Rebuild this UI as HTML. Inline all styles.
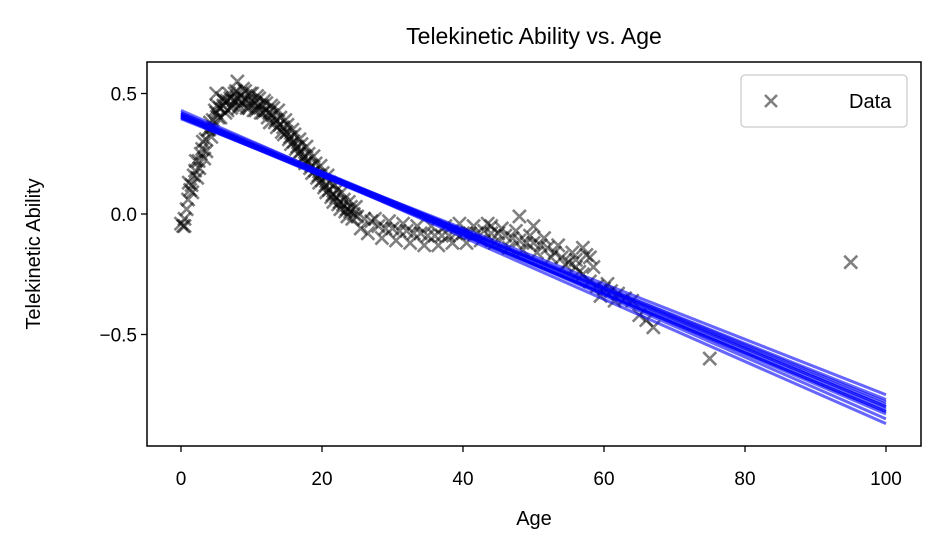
<!DOCTYPE html>
<html><head><meta charset="utf-8"><style>
html,body{margin:0;padding:0;background:#fff;}
svg{display:block;font-family:"Liberation Sans","DejaVu Sans",sans-serif;}
</style></head><body>
<svg id="c" width="941" height="554" xmlns="http://www.w3.org/2000/svg"></svg>
<script>
const agesA=[0,0.5,1,1.5,2,2.5,3,3.5,4,4.5,5,5.5,6,6.5,7,7.5,8,8.5,9,9.5,10,10.5,11,11.5,12,12.5,13,13.5,14,14.5,15,15.5,16,16.5,17,17.5,18,18.5,19,19.5,20,20.5,21,21.5,22,22.5,23,23.5,24,24.5,25];
const valsA=[-0.04,-0.02,0.06,0.12,0.18,0.22,0.27,0.31,0.35,0.39,0.42,0.44,0.45,0.47,0.48,0.47,0.48,0.49,0.48,0.47,0.47,0.46,0.45,0.45,0.43,0.42,0.41,0.39,0.37,0.36,0.34,0.32,0.30,0.28,0.26,0.24,0.22,0.20,0.18,0.16,0.14,0.12,0.10,0.08,0.07,0.05,0.04,0.02,0.01,0.00,-0.01];
const agesB=[0.3,0.8,1.3,1.8,2.3,2.8,3.3,3.8,4.3,4.8,5.3,5.8,6.3,6.8,7.3,7.8,8.3,8.8,9.3,9.8,10.3,10.8,11.3,11.8,12.3,12.8,13.3,13.8,14.3,14.8,15.3,15.8,16.3,16.8,17.3,17.8,18.3,18.8,19.3,19.8,20.3,20.8,21.3,21.8,22.3,22.8,23.3,23.8,24.3,24.8];
const valsB=[-0.05,0.02,0.10,0.16,0.15,0.25,0.23,0.35,0.32,0.43,0.40,0.48,0.42,0.50,0.45,0.51,0.45,0.52,0.44,0.50,0.43,0.49,0.42,0.47,0.40,0.45,0.38,0.43,0.34,0.39,0.31,0.35,0.27,0.31,0.23,0.28,0.19,0.24,0.15,0.20,0.11,0.16,0.07,0.12,0.04,0.09,0.01,0.05,-0.02,0.03];
const agesE=[1.1,1.6,2.1,2.6,3.1,3.6,4.1,4.6,5.1,5.6,6.1,6.6,7.1,7.6,8.1,8.6,9.1,9.6,10.1,10.6,11.1,11.6,12.1,12.6,13.1,13.6,14.1,14.6,15.1,15.6,16.1,16.6,17.1,17.6,18.1,18.6,19.1,19.6,20.1,20.6,21.1,21.6,22.1,22.6,23.1,23.6,24.1];
const valsE=[0.13,0.09,0.22,0.19,0.30,0.26,0.38,0.36,0.45,0.40,0.47,0.43,0.44,0.50,0.44,0.46,0.51,0.44,0.50,0.43,0.48,0.42,0.46,0.38,0.44,0.36,0.40,0.33,0.37,0.29,0.33,0.25,0.29,0.21,0.25,0.17,0.21,0.13,0.17,0.09,0.13,0.05,0.10,0.02,0.06,-0.01,0.03];
const agesC=[26,27,28,29,30,31,32,33,34,35,36,37,38,39,40,41,42,43,44,45,46,47,48,49,50,51,52,53,54,55,56,57,58,59,60,61,62,63,64,65,66,67];
const valsC=[-0.02,-0.03,-0.05,-0.06,-0.06,-0.07,-0.07,-0.08,-0.08,-0.09,-0.09,-0.09,-0.09,-0.08,-0.08,-0.08,-0.08,-0.07,-0.08,-0.08,-0.09,-0.10,-0.11,-0.12,-0.12,-0.13,-0.14,-0.16,-0.18,-0.20,-0.22,-0.25,-0.28,-0.30,-0.31,-0.32,-0.33,-0.35,-0.36,-0.42,-0.44,-0.47];
const agesD=[25.5,26.5,27.5,28.5,29.5,30.5,31.5,32.5,33.5,34.5,35.5,36.5,37.5,38.5,39.5,40.5,41.5,42.5,43.5,44.5,45.5,46.5,47.5,48.5,49.5,50.5,51.5,52.5,53.5,54.5,55.5,56.5,57.5,58.5,59.5,60.5,61.5,0.5,48,50,57,58,8,5,75,95,56,44];
const valsD=[-0.06,-0.08,-0.02,-0.10,-0.03,-0.11,-0.04,-0.12,-0.05,-0.13,-0.05,-0.13,-0.05,-0.12,-0.04,-0.12,-0.05,-0.11,-0.04,-0.12,-0.06,-0.14,-0.07,-0.15,-0.09,-0.16,-0.10,-0.18,-0.13,-0.21,-0.16,-0.24,-0.17,-0.22,-0.34,-0.29,-0.36,-0.05,-0.01,-0.05,-0.14,-0.18,0.55,0.50,-0.60,-0.20,-0.19,-0.05];
const lineIntercepts=[0.42,0.41,0.40,0.415,0.405,0.42,0.41,0.40,0.43,0.395,0.41,0.40];
const lineEnds=[-0.80,-0.78,-0.75,-0.83,-0.82,-0.87,-0.79,-0.81,-0.85,-0.77,-0.80,-0.82];
const xTicks=[0,20,40,60,80,100];
const yTicks=[0.5,0.0,-0.5];
const yTickLabels=["0.5","0.0","\u22120.5"];

const NS="http://www.w3.org/2000/svg";
const svg=document.getElementById('c');
const L=147,R=921,T=62,B=446;
const xs=v=>181+v*7.05;
const ys=v=>214-v*241;
function mk(t,a,p){const e=document.createElementNS(NS,t);for(const k in a)e.setAttribute(k,a[k]);(p||svg).appendChild(e);return e;}

const gp=mk('g',{});


function pts(ag,va){for(let i=0;i<ag.length;i++){const x=xs(ag[i]),y=ys(va[i]),s=6.5;
 const p=mk('path',{d:`M${x-s},${y-s}L${x+s},${y+s}M${x-s},${y+s}L${x+s},${y-s}`,stroke:'#000','stroke-opacity':0.5,'stroke-width':2.6},gp);
 
 }}
pts(agesA,valsA);pts(agesB,valsB);pts(agesE,valsE);pts(agesC,valsC);pts(agesD,valsD);

const gl=mk('g',{});


for(let i=0;i<lineIntercepts.length;i++){
 const l=mk('line',{x1:xs(0),y1:ys(lineIntercepts[i]),x2:xs(100),y2:ys(lineEnds[i]),stroke:'#0000ff','stroke-opacity':0.6,'stroke-width':3},gl);
 
 
}

const fr=mk('rect',{x:L,y:T,width:R-L,height:B-T,fill:'none',stroke:'#000','stroke-width':1.5});



xTicks.forEach(v=>{const x=xs(v);mk('line',{x1:x,y1:B,x2:x,y2:B+6,stroke:'#000','stroke-width':1.3});
 const t=mk('text',{x:x,y:B+39,'text-anchor':'middle','font-size':19});t.textContent=v;
 
 });
yTicks.forEach((v,i)=>{const y=ys(v);mk('line',{x1:L-6,y1:y,x2:L,y2:y,stroke:'#000','stroke-width':1.3});
 const t=mk('text',{x:L-10,y:y+7,'text-anchor':'end','font-size':19});t.textContent=yTickLabels[i];
 
 });

const title=mk('text',{x:534,y:44,'text-anchor':'middle','font-size':23});title.textContent='Telekinetic Ability vs. Age';


const xl=mk('text',{x:534,y:525,'text-anchor':'middle','font-size':20});xl.textContent='Age';


const yl=mk('text',{x:0,y:0,'text-anchor':'middle','font-size':20,transform:'translate(40,254) rotate(-90)'});yl.textContent='Telekinetic Ability';



const lg=mk('g',{});


mk('rect',{x:741,y:75,width:166,height:52,rx:4,fill:'#fff','fill-opacity':0.8,stroke:'#ccc','stroke-width':1.3},lg);
mk('path',{d:'M765,95L777,107M765,107L777,95',stroke:'#000','stroke-opacity':0.5,'stroke-width':2.6},lg);
const lt=mk('text',{x:849,y:108,'font-size':20},lg);lt.textContent='Data';


</script>
</body></html>
